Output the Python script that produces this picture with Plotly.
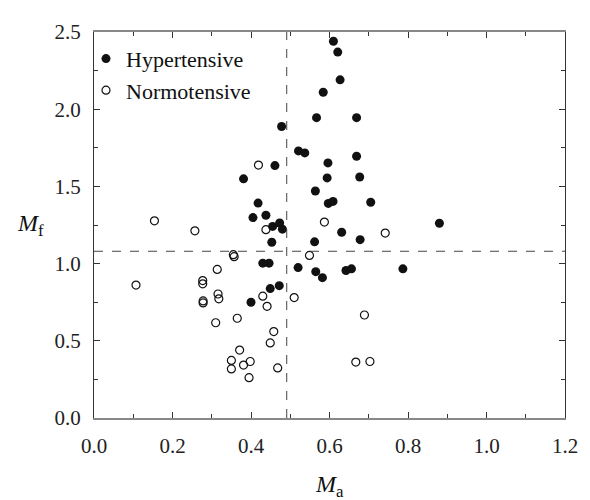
import plotly.graph_objects as go

# Hypertensive (filled) points: M_a, M_f
hyper_ma = [0.610, 0.621, 0.627, 0.584, 0.567, 0.669, 0.478, 0.521, 0.537, 0.669,
            0.461, 0.596, 0.381, 0.594, 0.677, 0.564, 0.597, 0.609, 0.705, 0.418,
            0.405, 0.438, 0.455, 0.473, 0.480, 0.880, 0.631, 0.678, 0.453, 0.562,
            0.430, 0.446, 0.520, 0.565, 0.582, 0.642, 0.656, 0.787, 0.449, 0.472,
            0.400]
hyper_mf = [2.440, 2.370, 2.190, 2.110, 1.945, 1.945, 1.888, 1.730, 1.717, 1.695,
            1.635, 1.652, 1.549, 1.555, 1.561, 1.470, 1.390, 1.403, 1.397, 1.392,
            1.298, 1.313, 1.241, 1.263, 1.223, 1.261, 1.203, 1.155, 1.138, 1.141,
            1.003, 1.003, 0.974, 0.948, 0.909, 0.955, 0.966, 0.966, 0.838, 0.857,
            0.750]

# Normotensive (open) points: M_a, M_f
normo_ma = [0.419, 0.154, 0.257, 0.438, 0.587, 0.742, 0.355, 0.357, 0.549, 0.314,
            0.107, 0.277, 0.277, 0.316, 0.318, 0.278, 0.278, 0.430, 0.441, 0.510,
            0.310, 0.365, 0.689, 0.458, 0.449, 0.371, 0.350, 0.350, 0.381, 0.398,
            0.395, 0.468, 0.667, 0.703]
normo_mf = [1.638, 1.277, 1.212, 1.220, 1.269, 1.198, 1.058, 1.045, 1.053, 0.962,
            0.861, 0.890, 0.869, 0.803, 0.772, 0.758, 0.745, 0.789, 0.723, 0.780,
            0.617, 0.646, 0.667, 0.560, 0.486, 0.440, 0.373, 0.318, 0.343, 0.366,
            0.261, 0.324, 0.362, 0.366]

# Threshold lines
ma_threshold = 0.491
mf_threshold = 1.08

x_ticks = [0.0, 0.2, 0.4, 0.6, 0.8, 1.0, 1.2]
y_ticks = [0.0, 0.5, 1.0, 1.5, 2.0, 2.5]

FONT = "'Liberation Serif', 'Times New Roman', 'DejaVu Serif', serif"

fig = go.Figure()
fig.add_trace(go.Scatter(
    x=hyper_ma, y=hyper_mf, mode="markers", name="Hypertensive",
    marker=dict(symbol="circle", size=9, color="#111111", line=dict(width=0)),
))
fig.add_trace(go.Scatter(
    x=normo_ma, y=normo_mf, mode="markers", name="Normotensive",
    marker=dict(symbol="circle-open", size=8, color="#111111", line=dict(width=1.2)),
))

fig.add_shape(type="line", x0=ma_threshold, x1=ma_threshold, y0=0, y1=2.5,
              xref="x", yref="y", line=dict(color="#444444", width=1, dash="dash"))
fig.add_shape(type="line", x0=0, x1=1.2, y0=mf_threshold, y1=mf_threshold,
              xref="x", yref="y", line=dict(color="#444444", width=1, dash="dash"))

fig.add_annotation(text="<i>M</i><sub>a</sub>", xref="paper", yref="paper",
                   x=0.5, y=-0.175, xanchor="center", yanchor="middle",
                   showarrow=False, font=dict(family=FONT, size=24, color="#111"))
fig.add_annotation(text="<i>M</i><sub>f</sub>", xref="paper", yref="paper",
                   x=-0.135, y=0.5, xanchor="center", yanchor="middle",
                   showarrow=False, font=dict(family=FONT, size=24, color="#111"))

axis_common = dict(
    showgrid=False, zeroline=False, showline=True, mirror="ticks",
    ticks="inside", ticklen=6, tickwidth=1, tickcolor="#333",
    tickfont=dict(family=FONT, size=21, color="#222"),
    ticklabelstandoff=8,
)

fig.update_xaxes(range=[0, 1.2], tickvals=x_ticks, tickformat=".1f",
                 linecolor="#888888", linewidth=1.5,
                 minor=dict(dtick=0.1, ticks="inside", ticklen=4, tickcolor="#333"),
                 **axis_common)
fig.update_yaxes(range=[0, 2.5], tickvals=y_ticks, tickformat=".1f",
                 linecolor="#333333", linewidth=1.2,
                 minor=dict(dtick=0.25, ticks="inside", ticklen=4, tickcolor="#333"),
                 **axis_common)

fig.update_layout(
    width=582, height=492,
    margin=dict(l=86, r=22, t=14, b=82),
    paper_bgcolor="white", plot_bgcolor="white",
    font=dict(family=FONT, color="#111"),
    showlegend=True,
    legend=dict(x=-0.017, y=0.985, xanchor="left", yanchor="top",
                bgcolor="rgba(0,0,0,0)", borderwidth=0,
                font=dict(family=FONT, size=22, color="#111"),
                itemwidth=30, tracegroupgap=0),
)

fig.write_html("out.html")
